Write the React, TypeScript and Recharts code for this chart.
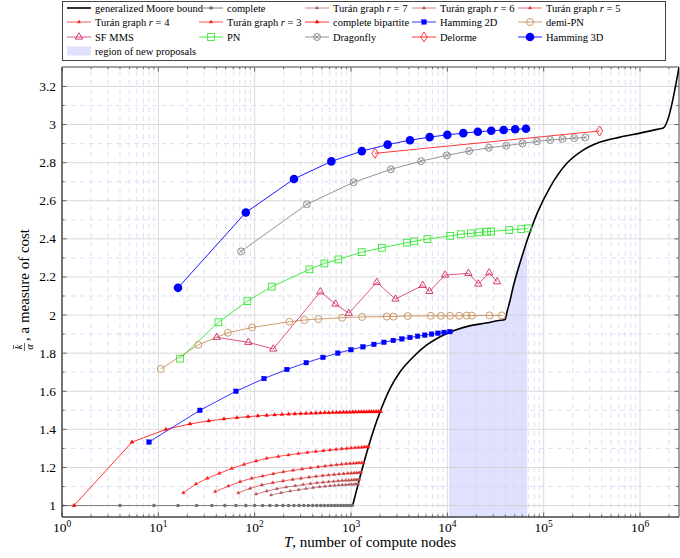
import React from 'react';
import { ComposedChart, Line, Area, XAxis, YAxis, ReferenceLine, ReferenceArea } from 'recharts';

const SERIF = "'Liberation Serif', 'DejaVu Serif', serif";

// ---- data (T = compute nodes, Y = k/alpha) ----
const MOORE_T = [1040, 1242, 1517, 2005, 2547, 3235, 4445, 6125, 8410, 11580, 16570, 25000, 34000, 39800, 41800, 44900, 48200, 52700, 59400, 67500, 85700, 116800, 175000, 257000, 386000, 623000, 1000000, 1550000, 1740000, 2540000];
const MOORE_Y = [1.0, 1.151, 1.309, 1.492, 1.615, 1.702, 1.781, 1.843, 1.886, 1.918, 1.942, 1.958, 1.971, 1.977, 2.02, 2.079, 2.147, 2.219, 2.306, 2.394, 2.535, 2.672, 2.798, 2.866, 2.908, 2.934, 2.955, 2.976, 2.982, 3.3];

const REGION_T = [10440, 11580, 16570, 25000, 34000, 39800, 41800, 44900, 48200, 52700, 59400, 67500];
const REGION_Y = [1.908, 1.918, 1.942, 1.958, 1.971, 1.977, 2.02, 2.079, 2.147, 2.219, 2.306, 2.394];

const COMPLETE_T = [1, 4, 9, 16, 25, 36, 49, 64, 81, 100, 121, 144, 169, 196, 225, 256, 289, 324, 361, 400, 441, 484, 529, 576, 625, 676, 729, 784, 841, 900, 961, 1024];
const COMPLETE_Y = [1, 1, 1, 1, 1, 1, 1, 1, 1, 1, 1, 1, 1, 1, 1, 1, 1, 1, 1, 1, 1, 1, 1, 1, 1, 1, 1, 1, 1, 1, 1, 1];

const TURAN7_T = [148, 188, 233, 286, 342, 404, 472, 538, 606, 676, 743, 809, 880, 945, 1002, 1065, 1117, 1157, 1194];
const TURAN7_Y = [1.055, 1.067, 1.076, 1.083, 1.089, 1.094, 1.098, 1.101, 1.1035, 1.1055, 1.107, 1.1085, 1.1095, 1.1105, 1.111, 1.1117, 1.1122, 1.1127, 1.113];

const TURAN6_T = [103.5, 133.6, 170, 212, 263, 318, 380, 444, 513, 585, 660, 735, 809, 880, 945, 1014, 1077, 1130, 1186, 1222];
const TURAN6_Y = [1.06, 1.076, 1.088, 1.097, 1.104, 1.11, 1.115, 1.119, 1.122, 1.125, 1.127, 1.129, 1.131, 1.132, 1.133, 1.134, 1.135, 1.1355, 1.136, 1.137];

const TURAN5_T = [67.7, 89.6, 118.5, 154, 197, 248, 303, 367, 434, 508, 585, 668, 752, 838, 922, 1002, 1077, 1143, 1214, 1274];
const TURAN5_Y = [1.067, 1.09, 1.108, 1.12, 1.129, 1.137, 1.143, 1.149, 1.153, 1.157, 1.16, 1.163, 1.165, 1.167, 1.169, 1.17, 1.171, 1.172, 1.173, 1.174];

const TURAN4_T = [38.8, 53.3, 70.5, 93.3, 121, 156, 199, 250, 311, 380, 455, 538, 621, 708, 798, 889, 979, 1065, 1143, 1214, 1289, 1346];
const TURAN4_Y = [1.073, 1.102, 1.125, 1.143, 1.155, 1.167, 1.177, 1.185, 1.192, 1.198, 1.203, 1.207, 1.211, 1.214, 1.217, 1.219, 1.221, 1.222, 1.223, 1.224, 1.2245, 1.225];

const TURAN3_T = [18.2, 24.6, 32.3, 43, 57.8, 77.6, 103.5, 133.6, 176, 224, 284, 352, 431, 517, 606, 700, 802, 903, 1002, 1104, 1194, 1295, 1377, 1459, 1517];
const TURAN3_Y = [1.067, 1.113, 1.143, 1.169, 1.195, 1.216, 1.234, 1.248, 1.258, 1.266, 1.273, 1.279, 1.284, 1.288, 1.292, 1.295, 1.298, 1.3, 1.302, 1.304, 1.305, 1.306, 1.307, 1.308, 1.309];

const BIP_T = [1.333, 5.333, 12, 21.33, 33.33, 48, 65.33, 85.33, 108, 133.3, 161.3, 192, 225.3, 261.3, 300, 341.3, 385.3, 432, 481.3, 533.3, 588, 645.3, 705.3, 768, 833.3, 901.3, 972, 1045, 1121, 1200, 1281, 1365, 1452, 1541, 1633, 1728, 1825, 1925, 2028];
const BIP_Y = [1, 1.3333, 1.4, 1.4286, 1.4444, 1.4545, 1.4615, 1.4667, 1.4706, 1.4737, 1.4762, 1.4783, 1.48, 1.4815, 1.4828, 1.4839, 1.4848, 1.4857, 1.4865, 1.4872, 1.4878, 1.4884, 1.4889, 1.4894, 1.4898, 1.4902, 1.4906, 1.4909, 1.4912, 1.4915, 1.4918, 1.4921, 1.4923, 1.4925, 1.4928, 1.493, 1.4932, 1.4933, 1.4935];

const HAM2_T = [8, 27, 64, 125, 216, 343, 512, 729, 1000, 1331, 1728, 2197, 2744, 3375, 4096, 4913, 5832, 6859, 8000, 9261, 10648];
const HAM2_Y = [1.3333, 1.5, 1.6, 1.6667, 1.7143, 1.75, 1.7778, 1.8, 1.8182, 1.8333, 1.8462, 1.8571, 1.8667, 1.875, 1.8824, 1.8889, 1.8947, 1.9, 1.9048, 1.9091, 1.913];

const DEMI_T = [10.6, 26, 52.6, 94, 229, 328, 458, 808, 1303, 2353, 2757, 3890, 6740, 8560, 10700, 13250, 15900, 17940, 27350, 36800];
const DEMI_Y = [1.717, 1.844, 1.907, 1.935, 1.965, 1.974, 1.979, 1.986, 1.99, 1.992, 1.992, 1.995, 1.996, 1.996, 1.996, 1.996, 1.997, 1.997, 1.998, 1.998];

const SF_T = [40.4, 86, 156, 481, 689, 949, 1853, 2894, 5560, 6520, 9480, 16560, 21000, 27200, 32900];
const SF_Y = [1.883, 1.857, 1.822, 2.122, 2.058, 2.009, 2.172, 2.084, 2.156, 2.124, 2.21, 2.219, 2.163, 2.222, 2.175];

const PN_T = [16.8, 42, 84, 150.6, 370, 529, 740, 1290, 2089, 3797, 4520, 6210, 10700, 13800, 17540, 21400, 25700, 28500, 43900, 58400, 68500];
const PN_Y = [1.771, 1.962, 2.073, 2.149, 2.24, 2.271, 2.292, 2.33, 2.353, 2.38, 2.387, 2.399, 2.416, 2.424, 2.429, 2.434, 2.437, 2.439, 2.446, 2.451, 2.455];

const DRAGON_T = [72.2, 348, 1064, 2597, 5345, 9886, 16840, 26970, 40800, 60300, 85000, 116700, 156600, 207400, 270000];
const DRAGON_Y = [2.334, 2.581, 2.697, 2.765, 2.808, 2.838, 2.861, 2.878, 2.889, 2.901, 2.912, 2.919, 2.924, 2.929, 2.932];

const DELORME_T = [1778, 379500];
const DELORME_Y = [2.849, 2.966];

const HAM3_T = [16, 81, 256, 625, 1296, 2401, 4096, 6561, 10000, 14641, 20736, 28561, 38416, 50625, 65536];
const HAM3_Y = [2.1429, 2.5385, 2.7143, 2.8065, 2.8605, 2.8947, 2.9178, 2.9341, 2.9459, 2.9549, 2.9618, 2.9672, 2.9716, 2.9751, 2.978];

// ---- axes ----
const X_MAX = 2.54e6;
const Y_MIN = 0.94;
const Y_MAX = 3.302;
const MAJOR_X = [1, 10, 100, 1000, 1e4, 1e5, 1e6];
const MINOR_X: number[] = [];
for (let k = 0; k <= 6; k++) {
  for (let m = 2; m <= 9; m++) {
    const v = m * 10 ** k;
    if (v < X_MAX) MINOR_X.push(v);
  }
}
const X_TICKS = [...MAJOR_X, ...MINOR_X].sort((a, b) => a - b);
const MAJOR_Y = [1, 1.2, 1.4, 1.6, 1.8, 2, 2.2, 2.4, 2.6, 2.8, 3, 3.2];
const MINOR_Y = [1.1, 1.3, 1.5, 1.7, 1.9, 2.1, 2.3, 2.5, 2.7, 2.9, 3.1];
const Y_TICKS = [...MAJOR_Y, ...MINOR_Y].sort((a, b) => a - b);

// tick lengths for the mirrored top/right ticks, in data units
const TOP_MAJOR = 0.024;
const TOP_MINOR = 0.013;
const RIGHT_MAJOR = 1.113; // factor on log axis (~4.5px)
const RIGHT_MINOR = 1.061;

const pts = (xs: number[], ys: number[]) => xs.map((x, i) => ({ x, y: ys[i] }));

// ---- markers ----
type Mark = (cx: number, cy: number, key?: string) => React.ReactElement;

const triangle = (color: string, s: number, filled: boolean): Mark => (cx, cy, key) => (
  <polygon
    key={key}
    points={`${cx},${cy - s} ${cx - s * 0.866},${cy + s / 2} ${cx + s * 0.866},${cy + s / 2}`}
    fill={filled ? color : 'none'}
    stroke={color}
    strokeWidth={filled ? 0.4 : 0.9}
  />
);
const disc = (color: string, r: number): Mark => (cx, cy, key) => (
  <circle key={key} cx={cx} cy={cy} r={r} fill={color} />
);
const ring = (color: string, r: number): Mark => (cx, cy, key) => (
  <circle key={key} cx={cx} cy={cy} r={r} fill="none" stroke={color} strokeWidth={0.9} />
);
const square = (color: string, h: number, filled: boolean): Mark => (cx, cy, key) => (
  <rect key={key} x={cx - h} y={cy - h} width={2 * h} height={2 * h}
    fill={filled ? color : 'none'} stroke={color} strokeWidth={filled ? 0.4 : 0.9} />
);
const otimes = (color: string, r: number): Mark => (cx, cy, key) => {
  const d = r * 0.7;
  return (
    <g key={key}>
      <circle cx={cx} cy={cy} r={r} fill="none" stroke={color} strokeWidth={0.9} />
      <path d={`M${cx - d},${cy - d}L${cx + d},${cy + d}M${cx - d},${cy + d}L${cx + d},${cy - d}`} stroke={color} strokeWidth={0.8} />
    </g>
  );
};
const diamond = (color: string, w: number, h: number): Mark => (cx, cy, key) => (
  <polygon key={key} points={`${cx},${cy - h} ${cx + w},${cy} ${cx},${cy + h} ${cx - w},${cy}`}
    fill="none" stroke={color} strokeWidth={0.9} />
);

const dotFn = (m: Mark) => (p: any) => m(p.cx, p.cy, `m-${p.index}`);

// ---- series (drawing order = legend order) ----
const rLabel = (r: number) => (
  <>Turán graph <tspan fontStyle="italic">r</tspan> = {r}</>
);

const SERIES = [
  { id: 'moore', label: <>generalized Moore bound</>, data: pts(MOORE_T, MOORE_Y), color: '#000000', width: 1.6, mark: null as Mark | null, curve: 'monotone', col: 0, row: 0 },
  { id: 'complete', label: <>complete</>, data: pts(COMPLETE_T, COMPLETE_Y), color: '#808080', width: 1, mark: disc('#707070', 1.8), curve: 'linear', col: 1, row: 0 },
  { id: 't7', label: rLabel(7), data: pts(TURAN7_T, TURAN7_Y), color: '#b86c6c', width: 0.8, mark: triangle('#a85a5a', 1.8, true), curve: 'linear', col: 2, row: 0 },
  { id: 't6', label: rLabel(6), data: pts(TURAN6_T, TURAN6_Y), color: '#c65e5e', width: 0.8, mark: triangle('#b84c4c', 1.8, true), curve: 'linear', col: 3, row: 0 },
  { id: 't5', label: rLabel(5), data: pts(TURAN5_T, TURAN5_Y), color: '#dc4646', width: 0.8, mark: triangle('#d03a3a', 1.9, true), curve: 'linear', col: 4, row: 0 },
  { id: 't4', label: rLabel(4), data: pts(TURAN4_T, TURAN4_Y), color: '#ef3030', width: 0.8, mark: triangle('#e82828', 1.9, true), curve: 'linear', col: 0, row: 1 },
  { id: 't3', label: rLabel(3), data: pts(TURAN3_T, TURAN3_Y), color: '#ff2222', width: 0.8, mark: triangle('#ff1a1a', 2, true), curve: 'linear', col: 1, row: 1 },
  { id: 'bip', label: <>complete bipartite</>, data: pts(BIP_T, BIP_Y), color: '#ff0000', width: 0.8, mark: triangle('#ff0000', 2.2, true), curve: 'linear', col: 2, row: 1 },
  { id: 'ham2', label: <>Hamming 2D</>, data: pts(HAM2_T, HAM2_Y), color: '#0000ff', width: 0.8, mark: square('#0000ff', 2.3, true), curve: 'linear', col: 3, row: 1 },
  { id: 'demi', label: <>demi-PN</>, data: pts(DEMI_T, DEMI_Y), color: '#c8905a', width: 0.9, mark: ring('#c8905a', 3.5), curve: 'linear', col: 4, row: 1 },
  { id: 'sf', label: <>SF MMS</>, data: pts(SF_T, SF_Y), color: '#d42a62', width: 0.8, mark: triangle('#d42a62', 4.2, false), curve: 'linear', col: 0, row: 2 },
  { id: 'pn', label: <>PN</>, data: pts(PN_T, PN_Y), color: '#33e833', width: 0.9, mark: square('#33e833', 3.4, false), curve: 'linear', col: 1, row: 2 },
  { id: 'df', label: <>Dragonfly</>, data: pts(DRAGON_T, DRAGON_Y), color: '#888888', width: 0.9, mark: otimes('#888888', 3.5), curve: 'linear', col: 2, row: 2 },
  { id: 'del', label: <>Delorme</>, data: pts(DELORME_T, DELORME_Y), color: '#ff2020', width: 0.9, mark: diamond('#ff2020', 3.3, 5), curve: 'linear', col: 3, row: 2 },
  { id: 'ham3', label: <>Hamming 3D</>, data: pts(HAM3_T, HAM3_Y), color: '#0000ff', width: 0.9, mark: disc('#0000ff', 4.3), curve: 'linear', col: 4, row: 2 },
];

const txt = (size: number, extra?: React.CSSProperties): React.CSSProperties => ({ fontFamily: SERIF, fontSize: size, ...extra });

// ---- ticks ----
const XTick = (p: any) => {
  const v = p.payload.value;
  const e = Math.round(Math.log10(v));
  const major = Math.abs(Math.log10(v) - e) < 1e-9;
  return (
    <g>
      <line x1={p.x} x2={p.x} y1={p.y} y2={p.y - (major ? 4.5 : 2.5)} stroke="#444" strokeWidth={0.8} />
      {major && (
        <text x={p.x} y={p.y + 15} textAnchor="middle" style={txt(13.5)} fill="#000">
          10<tspan dy={-5} style={txt(9.5)}>{e}</tspan>
        </text>
      )}
    </g>
  );
};

const YTick = (p: any) => {
  const v = p.payload.value;
  const major = Math.abs(v * 5 - Math.round(v * 5)) < 1e-6;
  return (
    <g>
      <line x1={p.x} x2={p.x + (major ? 4.5 : 2.5)} y1={p.y} y2={p.y} stroke="#444" strokeWidth={0.8} />
      {major && (
        <text x={p.x - 6} y={p.y + 4.5} textAnchor="end" style={txt(13.5)} fill="#000">
          {String(Math.round(v * 10) / 10)}
        </text>
      )}
    </g>
  );
};

// ---- legend ----
const LEG_X = [67, 199, 305, 412, 518];
const LEG_Y = [8, 22, 37, 51];

const Legend = () => (
  <g style={txt(10.5)}>
    <rect x={62.5} y={1.5} width={603} height={59} fill="#fff" stroke="#444" strokeWidth={1} />
    {SERIES.map((s) => {
      const x = LEG_X[s.col];
      const y = LEG_Y[s.row];
      return (
        <g key={s.id}>
          <line x1={x} x2={x + 24} y1={y} y2={y} stroke={s.color} strokeWidth={s.width} />
          {s.mark && s.mark(x + 12, y)}
          <text x={x + 28} y={y + 3.5} fill="#000" style={txt(10.5)}>{s.label}</text>
        </g>
      );
    })}
    <rect x={LEG_X[0]} y={LEG_Y[3] - 4.5} width={24} height={9} fill="#0000ff" fillOpacity={0.12} />
    <text x={LEG_X[0] + 28} y={LEG_Y[3] + 3.5} fill="#000" style={txt(10.5)}>region of new proposals</text>
  </g>
);

export default function App() {
  return (
    <div style={{ position: 'absolute', left: 0, top: 0, width: 680, height: 558, background: '#fff', fontFamily: SERIF }}>
      <ComposedChart width={680} height={558} margin={{ top: 67, right: 1, bottom: 11, left: 12 }}>
        <XAxis
          dataKey="x"
          type="number"
          scale="log"
          domain={[1, X_MAX]}
          allowDataOverflow
          ticks={X_TICKS}
          interval={0}
          tickLine={false}
          tickSize={0}
          tickMargin={0}
          axisLine={{ stroke: '#444' }}
          tick={(p: any) => <XTick {...p} />}
          height={30}
        />
        <YAxis
          type="number"
          domain={[Y_MIN, Y_MAX]}
          allowDataOverflow
          ticks={Y_TICKS}
          interval={0}
          tickLine={false}
          tickSize={0}
          tickMargin={0}
          axisLine={{ stroke: '#444' }}
          tick={(p: any) => <YTick {...p} />}
          width={50}
        />
        {MINOR_X.map((v) => (
          <ReferenceLine key={`mx${v}`} x={v} stroke="#d2d2f4" strokeWidth={0.7} strokeDasharray="5 4" />
        ))}
        {MINOR_Y.map((v) => (
          <ReferenceLine key={`my${v}`} y={v} stroke="#d2d2f4" strokeWidth={0.7} strokeDasharray="5 4" />
        ))}
        {MAJOR_X.slice(1).map((v) => (
          <ReferenceLine key={`Mx${v}`} x={v} stroke="#d0d0d0" strokeWidth={0.8} />
        ))}
        {MAJOR_Y.map((v) => (
          <ReferenceLine key={`My${v}`} y={v} stroke="#d0d0d0" strokeWidth={0.8} />
        ))}
        {X_TICKS.map((v) => {
          const len = MAJOR_X.includes(v) ? TOP_MAJOR : TOP_MINOR;
          return (
            <ReferenceLine key={`tx${v}`} segment={[{ x: v, y: Y_MAX }, { x: v, y: Y_MAX - len }]} stroke="#444" strokeWidth={0.8} />
          );
        })}
        {Y_TICKS.map((v) => {
          const f = MAJOR_Y.includes(v) ? RIGHT_MAJOR : RIGHT_MINOR;
          return (
            <ReferenceLine key={`ry${v}`} segment={[{ x: X_MAX, y: v }, { x: X_MAX / f, y: v }]} stroke="#444" strokeWidth={0.8} />
          );
        })}
        <Area
          data={pts(REGION_T, REGION_Y)}
          dataKey="y"
          type="monotone"
          stroke="none"
          fill="#0000ff"
          fillOpacity={0.12}
          baseValue={Y_MIN}
          isAnimationActive={false}
          activeDot={false}
        />
        {SERIES.map((s) => (
          <Line
            key={s.id}
            data={s.data}
            dataKey="y"
            type={s.curve as any}
            stroke={s.color}
            strokeWidth={s.width}
            dot={s.mark ? dotFn(s.mark) : false}
            activeDot={false}
            isAnimationActive={false}
          />
        ))}
        <ReferenceArea x1={1} x2={X_MAX} y1={Y_MIN} y2={Y_MAX} fill="none" stroke="#444" strokeWidth={1} ifOverflow="visible" />
      </ComposedChart>
      <svg width={680} height={558} style={{ position: 'absolute', left: 0, top: 0, pointerEvents: 'none' }}>
        <Legend />
        <text x={370} y={547} textAnchor="middle" style={txt(15)} fill="#000">
          <tspan style={{ fontStyle: 'italic' }}>T</tspan>, number of compute nodes
        </text>
        <g transform="translate(25,351) rotate(-90)" fill="#000">
          <text x={4} y={-3} textAnchor="middle" style={txt(10.5, { fontStyle: 'italic' })}>k</text>
          <line x1={2} x2={6} y1={-11.5} y2={-11.5} stroke="#000" strokeWidth={0.6} />
          <line x1={0} x2={8} y1={-0.5} y2={-0.5} stroke="#000" strokeWidth={0.6} />
          <text x={4} y={7.5} textAnchor="middle" style={txt(10.5, { fontStyle: 'italic' })}>α</text>
          <text x={10} y={4} style={txt(15)}>, a measure of cost</text>
        </g>
      </svg>
    </div>
  );
}
